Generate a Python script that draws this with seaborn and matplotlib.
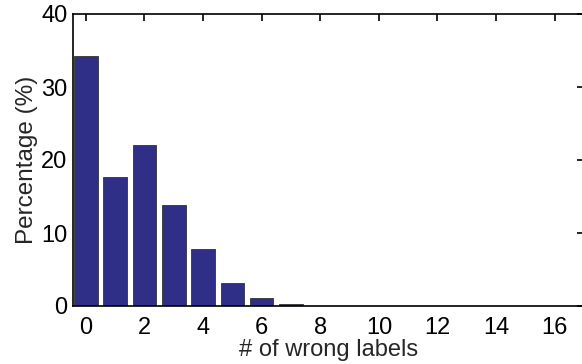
import numpy as np
import pandas as pd
import matplotlib
matplotlib.use("Agg")
import matplotlib.pyplot as plt
import seaborn as sns

# Data
wrong_labels = list(range(17))
percentage = [34.2, 17.7, 22.0, 13.8, 7.8, 3.1, 1.05, 0.25,
              0.05, 0.04, 0.03, 0.03, 0.02, 0.02, 0.02, 0.02, 0.02]

sns.set_theme(style="white")
plt.rcParams['font.family'] = ['Liberation Sans', 'DejaVu Sans']

df = pd.DataFrame({'labels': wrong_labels, 'pct': percentage})

fig = plt.figure(figsize=(5.82, 3.64), dpi=100)
ax = fig.add_axes([73 / 582, 1 - 306 / 364, 511 / 582, 292 / 364])

sns.barplot(data=df, x='labels', y='pct', color='#2f2f88', saturation=1,
            width=0.8, edgecolor='#333333', linewidth=0.6, ax=ax)

ax.set_xlim(-0.44, 17.0)
ax.set_ylim(0, 40)
ax.set_xticks(range(0, 17, 2))
ax.set_xticklabels([str(v) for v in range(0, 17, 2)])
ax.set_yticks(range(0, 41, 10))

ax.tick_params(direction='in', length=5, width=1.2, colors='black',
               top=True, right=True, labelsize=17)
ax.tick_params(axis='x', pad=8)
ax.tick_params(axis='y', pad=4)
for s in ax.spines.values():
    s.set_visible(True)
    s.set_color('black')
    s.set_linewidth(1.2)

ax.set_xlabel('# of wrong labels', fontsize=17, labelpad=0)
ax.set_ylabel('Percentage (%)', fontsize=17.5, labelpad=2)

fig.savefig('out.png', dpi=100)
